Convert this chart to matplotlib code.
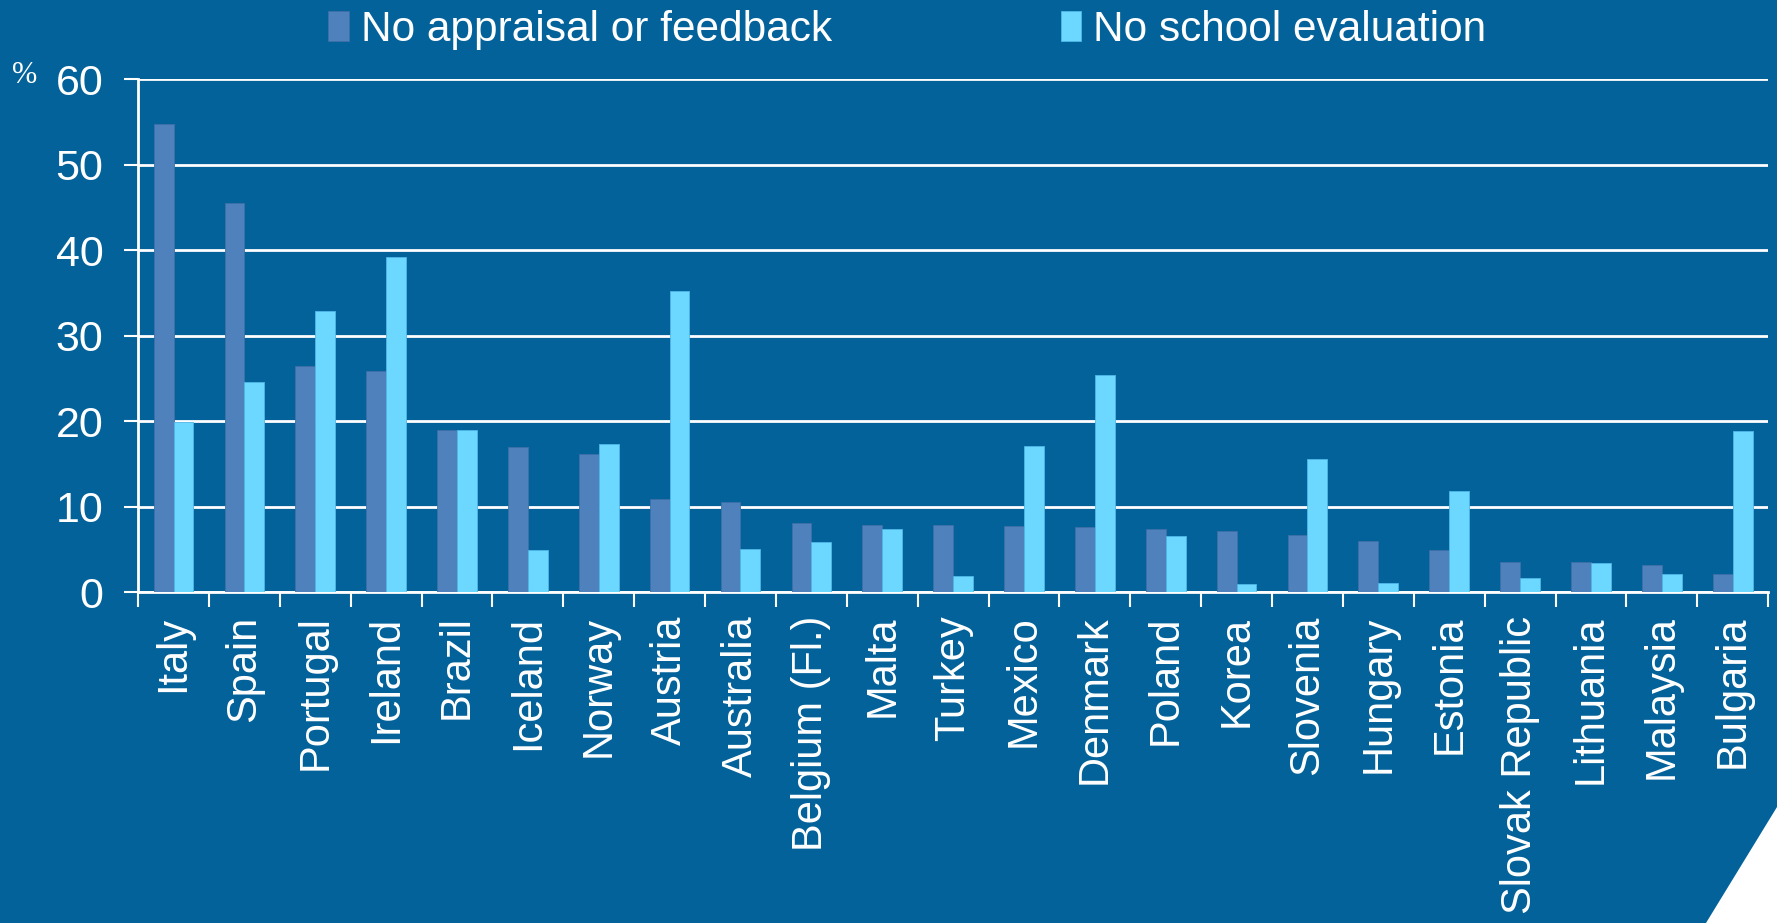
import matplotlib
matplotlib.use("Agg")
import matplotlib.pyplot as plt
import numpy as np
from matplotlib.patches import Polygon

countries = ["Italy", "Spain", "Portugal", "Ireland", "Brazil", "Iceland", "Norway",
             "Austria", "Australia", "Belgium (Fl.)", "Malta", "Turkey", "Mexico",
             "Denmark", "Poland", "Korea", "Slovenia", "Hungary", "Estonia",
             "Slovak Republic", "Lithuania", "Malaysia", "Bulgaria"]
no_appraisal = [54.7, 45.5, 26.4, 25.8, 19.0, 17.0, 16.2, 10.9, 10.5, 8.1, 7.8, 7.8,
                7.7, 7.6, 7.4, 7.1, 6.7, 6.0, 4.9, 3.5, 3.5, 3.2, 2.1]
no_school_eval = [19.9, 24.6, 32.9, 39.2, 19.0, 4.9, 17.3, 35.2, 5.0, 5.8, 7.4, 1.9,
                  17.1, 25.4, 6.5, 0.9, 15.5, 1.1, 11.8, 1.6, 3.4, 2.1, 18.8]
series_names = ["No appraisal or feedback", "No school evaluation"]
yticks = [0, 10, 20, 30, 40, 50, 60]

BG = "#03629a"
DARK = "#4f81bd"
LIGHT = "#6dd8ff"
FS = 30

plt.rcParams['font.family'] = ['Liberation Sans', 'DejaVu Sans']

fig = plt.figure(figsize=(17.77, 9.23), dpi=100, facecolor=BG)
ax = fig.add_axes([0.0777, 0.3586, 0.9173, 0.5558])
ax.set_facecolor(BG)

n = len(countries)
x = np.arange(n)
w = 0.28
b1 = ax.bar(x - w / 2, no_appraisal, width=w, color=DARK, edgecolor="#3f6fa8",
            linewidth=0.6, label=series_names[0], zorder=3)
b2 = ax.bar(x + w / 2, no_school_eval, width=w, color=LIGHT, edgecolor="#4fb8e8",
            linewidth=0.6, label=series_names[1], zorder=3)

ax.set_xlim(-0.5, n - 0.5)
ax.set_ylim(0, 60)
ax.set_yticks(yticks)
ax.set_yticklabels([str(t) for t in yticks], fontsize=31, color="white")
ax.yaxis.grid(True, color="white", linewidth=2, zorder=1)
ax.tick_params(axis='y', length=10, width=1.5, color="white", pad=15)

ax.set_xticks(x)
ax.set_xticklabels(countries, rotation=90, fontsize=FS, color="white")
ax.set_xticks(np.arange(n + 1) - 0.5, minor=True)
ax.tick_params(axis='x', which='major', length=0, pad=17)
ax.tick_params(axis='x', which='minor', length=11, width=1.5, color="white")

for s in ["top", "right"]:
    ax.spines[s].set_visible(False)
for s in ["left", "bottom"]:
    ax.spines[s].set_color("white")
    ax.spines[s].set_linewidth(2)

ax.text(-0.0693, 1.006, "%", transform=ax.transAxes, fontsize=22, color="white",
        ha="center", va="center", family=["Liberation Serif", "DejaVu Serif"])

leg = fig.legend(handles=[b1, b2], labels=series_names, loc="center",
                 bbox_to_anchor=(0.5105, 0.968), ncol=2, frameon=False, fontsize=30.5,
                 labelcolor="white", handlelength=0.49, handleheight=0.7,
                 handletextpad=0.27, columnspacing=5.4, borderpad=0.1)

tri = Polygon([[1.0, 1 - 807 / 923], [1.0, 0.0], [1706 / 1777, 0.0]], closed=True,
              transform=fig.transFigure, facecolor="white", edgecolor="none")
fig.patches.append(tri)

fig.savefig("out.png", dpi=100, facecolor=BG)
